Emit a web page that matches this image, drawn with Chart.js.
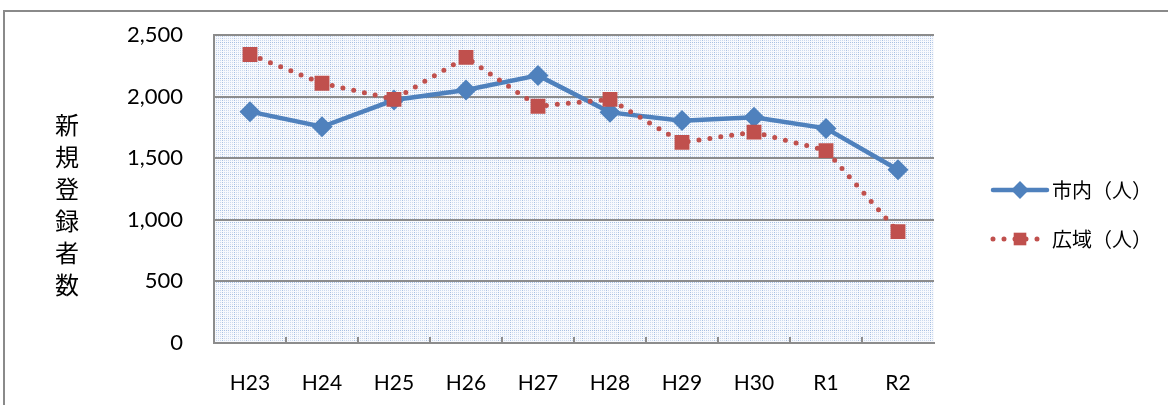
<!DOCTYPE html>
<html>
<head>
<meta charset="utf-8">
<script src="https://cdn.jsdelivr.net/npm/chart.js@4/dist/chart.umd.min.js"></script>
<style>
  html, body { margin: 0; padding: 0; background: #fff; }
  #wrap { position: relative; width: 1169px; height: 405px; }
</style>
</head>
<body>
<div id="wrap"><canvas id="c"></canvas></div>
<script>
"use strict";

// ── Data ────────────────────────────────────────────────────────────────
const years = ["H23", "H24", "H25", "H26", "H27", "H28", "H29", "H30", "R1", "R2"];
const shinai = [1878, 1755, 1972, 2054, 2172, 1872, 1805, 1832, 1742, 1406];
const kouiki = [2342, 2108, 1978, 2318, 1922, 1978, 1628, 1712, 1562, 904];
const yTicks = [0, 500, 1000, 1500, 2000, 2500];
const yTitle = "新規登録者数";
const legendLabels = ["市内（人）", "広域（人）"];

const BLUE = "#4F81BD", RED = "#C0504D", GRID = "#8c8c8c";
const NUM_FONT = "Lato, 'Open Sans', sans-serif";
const JP_FONT = "'Noto Sans CJK JP', sans-serif";

// dotted light-blue fill for the plot area
function makePattern(ctx) {
  const t = document.createElement("canvas");
  t.width = 12; t.height = 12;
  const g = t.getContext("2d");
  g.fillStyle = "#f7f9fd"; g.fillRect(0, 0, 12, 12);
  g.fillStyle = "#cbd9ee";
  for (let x = 0; x < 12; x += 2) for (let y = 0; y < 12; y += 2) g.fillRect(x, y, 1, 1);
  g.fillStyle = "#a8c0e2";
  for (let k = 0; k < 12; k += 2) { g.fillRect(6, k, 1, 1); g.fillRect(k, 6, 1, 1); }
  return ctx.createPattern(t, "repeat");
}

// ── Plugins: frame, plot fill, inner ticks, y title, legend ─────────────
const decor = {
  id: "decor",
  beforeDraw(chart) {
    const { ctx, chartArea: a } = chart;
    ctx.save();
    ctx.strokeStyle = "#8a8a8a"; ctx.lineWidth = 2;
    ctx.beginPath();
    ctx.moveTo(4, 410); ctx.lineTo(4, 11); ctx.lineTo(1168, 11);
    ctx.stroke();
    ctx.fillStyle = makePattern(ctx);
    ctx.fillRect(a.left, a.top, a.right - a.left, a.bottom - a.top);
    ctx.restore();
  },
  afterDatasetsDraw(chart) {
    const { ctx, chartArea: a, scales } = chart;
    const x = scales.x;
    ctx.save();
    ctx.strokeStyle = GRID; ctx.lineWidth = 2;
    for (let i = 1; i < years.length; i++) {
      const px = (x.getPixelForValue(i - 1) + x.getPixelForValue(i)) / 2;
      ctx.beginPath(); ctx.moveTo(px, a.bottom); ctx.lineTo(px, a.bottom - 6); ctx.stroke();
    }
    ctx.restore();
  },
  afterDraw(chart) {
    const { ctx } = chart;
    ctx.save();
    // vertical y-axis title
    ctx.fillStyle = "#000";
    ctx.font = "24px " + JP_FONT;
    ctx.textAlign = "center"; ctx.textBaseline = "middle";
    [...yTitle].forEach((ch, i) => ctx.fillText(ch, 67, 125 + i * 32));

    // legend
    const rows = [190, 239];
    chart.data.datasets.forEach((ds, i) => {
      const y = rows[i];
      ctx.strokeStyle = ds.borderColor; ctx.fillStyle = ds.borderColor;
      ctx.lineWidth = ds.borderWidth; ctx.lineCap = "round";
      ctx.setLineDash(ds.borderDash || []);
      ctx.beginPath(); ctx.moveTo(993, y); ctx.lineTo(1047, y); ctx.stroke();
      ctx.setLineDash([]);
      const r = ds.pointRadius * 0.85, cx = 1020;
      ctx.beginPath();
      if (ds.pointStyle === "rectRot") {
        ctx.moveTo(cx, y - r); ctx.lineTo(cx + r, y); ctx.lineTo(cx, y + r); ctx.lineTo(cx - r, y);
      } else {
        const s = r * Math.SQRT1_2;
        ctx.rect(cx - s, y - s, 2 * s, 2 * s);
      }
      ctx.fill();
      ctx.fillStyle = "#000";
      ctx.font = "20px " + JP_FONT;
      ctx.textAlign = "left"; ctx.textBaseline = "middle";
      ctx.fillText(ds.label, 1052, y);
    });
    ctx.restore();
  }
};

// ── Chart ───────────────────────────────────────────────────────────────
new Chart(document.getElementById("c"), {
  type: "line",
  data: {
    labels: years,
    datasets: [
      {
        label: legendLabels[0], data: shinai, order: 1,
        borderColor: BLUE, backgroundColor: BLUE, borderWidth: 4.5,
        pointStyle: "rectRot", pointRadius: 10.5, pointBorderWidth: 0,
        pointBackgroundColor: BLUE, tension: 0,
      },
      {
        label: legendLabels[1], data: kouiki, order: 0,
        borderColor: RED, backgroundColor: RED, borderWidth: 5,
        borderDash: [0, 11], borderCapStyle: "round",
        pointStyle: "rect", pointRadius: 10.5, pointBorderWidth: 0,
        pointBackgroundColor: RED, tension: 0,
      },
    ],
  },
  options: {
    responsive: true, maintainAspectRatio: false, animation: false,
    layout: { padding: { top: 35, right: 235, left: 0, bottom: 0 } },
    plugins: { legend: { display: false }, tooltip: { enabled: false } },
    scales: {
      x: {
        offset: true,
        grid: { display: false },
        border: { display: true, color: GRID, width: 2 },
        ticks: { color: "#000", font: { family: NUM_FONT, size: 21 }, padding: 20, maxRotation: 0 },
        afterFit: (s) => { s.height = 405 - 343; s.paddingLeft = 0; s.paddingRight = 0; },
      },
      y: {
        min: 0, max: 2500,
        afterBuildTicks: (s) => { s.ticks = yTicks.map((v) => ({ value: v })); },
        grid: { color: GRID, lineWidth: 2, drawTicks: false },
        border: { display: true, color: GRID, width: 2 },
        ticks: {
          color: "#000", font: { family: NUM_FONT, size: 22 }, padding: 31,
          callback: (v) => v.toLocaleString("en-US"),
        },
        afterFit: (s) => { s.width = 214; s.paddingTop = 0; s.paddingBottom = 0; },
      },
    },
  },
  plugins: [decor],
});
</script>
</body>
</html>
